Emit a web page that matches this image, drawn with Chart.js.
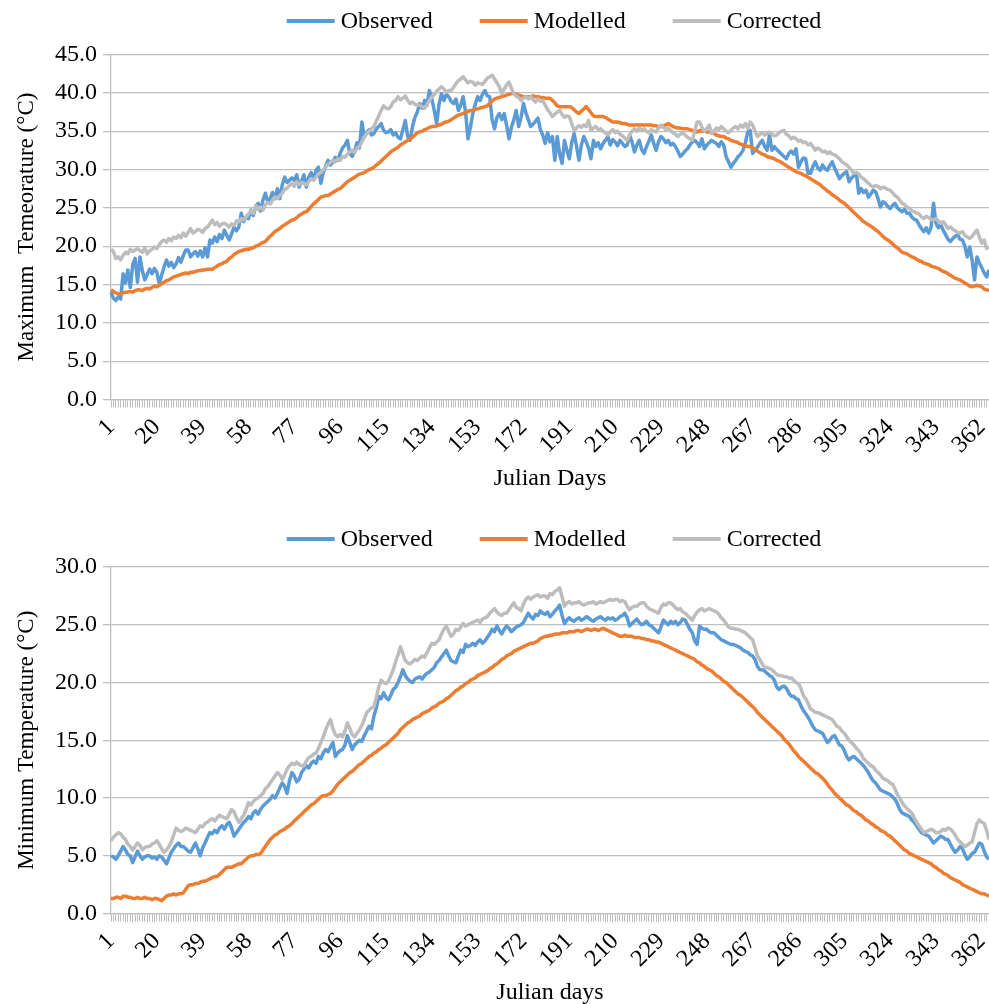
<!DOCTYPE html>
<html><head><meta charset="utf-8">
<script src="https://cdn.jsdelivr.net/npm/chart.js@4.4.1/dist/chart.umd.min.js"></script>
<style>
html,body{margin:0;padding:0;background:#fff;overflow:hidden;width:989px;height:1004px;}
#c1{position:absolute;left:0;top:0;width:989px;height:500px;}
#c2{position:absolute;left:0;top:500px;width:989px;height:510px;}
</style></head><body>
<canvas id="c1" width="989" height="500"></canvas>
<canvas id="c2" width="989" height="510"></canvas>
<script>
// ---- categories (Julian days) ----
const days = Array.from({length: 365}, (_, i) => i + 1);
const tickLabels = ['1','20','39','58','77','96','115','134','153','172','191','210','229','248','267','286','305','324','343','362'];
const seriesNames = ['Observed', 'Modelled', 'Corrected'];

// ---- Maximum temperature (top panel) ----
const tmaxObs = [
14.0,13.2,12.9,13.4,13.1,16.4,15.2,16.9,14.6,17.6,
18.4,15.3,18.6,16.8,15.6,16.3,17.0,16.4,17.1,16.6,
15.1,16.2,17.3,18.2,17.4,17.9,17.2,17.7,18.5,17.9,
18.8,19.5,19.5,18.6,19.0,19.3,18.7,19.4,18.6,19.8,
18.6,20.8,20.4,21.2,20.6,21.5,21.0,22.1,21.4,20.8,
21.6,22.5,22.0,22.5,24.3,23.2,23.8,23.6,24.7,24.0,
25.2,25.6,24.6,26.0,26.9,25.8,26.2,27.0,26.2,27.5,
26.2,28.0,29.0,28.3,28.6,28.9,28.6,29.3,27.7,28.5,
29.3,27.7,29.0,29.6,28.8,29.9,30.3,28.2,29.6,30.4,
31.2,30.6,31.0,31.6,31.2,32.1,32.8,33.2,33.8,32.1,
31.7,32.4,33.5,32.8,36.2,34.3,34.8,35.2,34.5,34.7,
35.3,35.6,36.0,35.1,34.8,34.9,35.2,34.5,34.8,34.2,
34.0,35.2,36.4,34.3,33.8,35.6,36.8,37.5,38.6,38.0,
39.0,38.4,40.3,39.2,37.7,36.0,38.5,39.9,39.0,39.8,
39.5,38.9,38.6,39.2,37.7,38.4,39.5,37.5,34.0,35.5,
37.3,38.5,39.5,39.0,39.8,40.3,39.6,39.5,36.5,35.3,
36.8,37.3,36.5,37.3,35.8,34.0,35.5,36.5,37.7,35.6,
36.8,38.6,37.4,36.5,35.6,35.9,36.3,36.7,35.2,34.5,
33.4,34.8,33.6,34.3,31.2,34.3,32.0,30.8,33.8,32.5,
31.4,33.5,34.7,33.0,31.2,33.2,34.3,33.6,32.8,31.4,
33.8,33.0,33.5,32.7,33.4,33.8,34.3,33.2,33.9,33.6,
33.1,33.8,33.4,33.0,33.2,34.5,33.6,32.3,33.2,33.8,
32.6,32.1,33.0,33.7,34.5,33.4,32.5,33.6,34.3,34.0,
33.5,33.8,33.2,33.4,33.0,32.4,31.7,32.0,32.4,32.7,
33.2,33.6,33.8,33.5,33.0,34.0,32.7,33.2,33.5,33.8,
33.6,33.4,33.0,33.6,33.2,31.7,31.0,30.3,30.8,31.2,
31.7,32.0,32.5,33.5,34.9,35.1,32.1,32.5,32.9,33.4,
33.8,33.0,32.5,34.5,32.5,33.0,32.6,32.3,32.0,31.7,
31.4,32.1,32.4,32.0,32.7,30.3,31.0,31.5,31.4,29.5,
29.5,30.4,31.0,30.2,29.9,30.6,30.1,29.9,30.5,31.0,
30.2,29.5,28.8,29.2,29.5,29.7,28.4,28.9,29.2,29.5,
26.9,27.5,27.0,27.3,26.4,26.8,27.3,27.1,26.2,25.1,
25.8,25.6,25.2,24.9,25.3,25.6,25.0,24.7,24.5,24.8,
24.3,24.3,23.8,23.5,23.4,22.8,22.3,21.9,22.4,21.7,
22.5,25.6,23.0,22.4,22.8,22.1,21.5,20.9,20.6,21.0,
21.3,21.5,20.9,20.8,20.0,18.6,19.9,18.2,15.6,18.6,
17.8,17.2,16.5,16.0,16.9];

const tmaxMod = [
14.3,14.1,13.9,13.8,13.8,13.9,14.0,14.0,14.1,14.0,
14.2,14.3,14.3,14.2,14.4,14.5,14.4,14.6,14.8,14.7,
14.9,15.1,15.3,15.5,15.6,15.8,16.0,16.1,16.2,16.3,
16.4,16.5,16.4,16.6,16.6,16.7,16.8,16.8,16.9,16.9,
17.0,17.0,17.0,17.2,17.4,17.6,17.7,17.9,18.0,18.4,
18.6,18.9,19.1,19.3,19.4,19.5,19.6,19.6,19.7,19.8,
20.0,20.1,20.3,20.5,20.6,21.0,21.3,21.6,21.9,22.1,
22.3,22.6,22.8,23.0,23.2,23.4,23.5,23.7,24.0,24.2,
24.4,24.5,24.8,25.2,25.5,25.8,26.1,26.4,26.5,26.6,
26.6,26.8,27.0,27.2,27.4,27.5,27.8,28.1,28.4,28.6,
28.8,29.0,29.2,29.4,29.5,29.6,29.8,30.0,30.1,30.3,
30.6,30.8,31.1,31.4,31.7,32.0,32.3,32.5,32.7,32.9,
33.2,33.4,33.6,33.8,34.0,34.2,34.5,34.8,34.9,35.0,
35.2,35.3,35.5,35.6,35.6,35.7,35.8,35.9,36.1,36.2,
36.3,36.5,36.7,36.9,37.1,37.2,37.3,37.5,37.6,37.7,
37.7,37.8,37.9,38.0,38.1,38.2,38.3,38.6,38.9,39.2,
39.3,39.4,39.5,39.6,39.7,39.8,39.9,39.9,39.8,39.7,
39.6,39.5,39.5,39.5,39.5,39.6,39.5,39.5,39.4,39.4,
39.3,39.3,39.3,39.0,38.7,38.3,38.2,38.2,38.2,38.2,
38.2,38.1,37.8,37.5,37.3,37.6,37.9,38.2,37.8,37.4,
37.0,36.9,36.9,36.9,36.9,36.8,36.6,36.4,36.2,36.2,
36.2,36.1,36.0,36.0,35.9,35.8,35.8,35.8,35.8,35.8,
35.8,35.8,35.8,35.8,35.8,35.7,35.7,35.6,35.6,35.7,
35.8,36.0,35.8,35.6,35.5,35.4,35.4,35.3,35.3,35.3,
35.2,35.1,35.0,34.9,35.1,35.0,35.0,34.9,34.9,34.8,
34.7,34.5,34.4,34.3,34.3,34.1,34.0,33.8,33.7,33.6,
33.5,33.3,33.2,33.1,33.0,33.0,32.8,32.6,32.4,32.2,
32.0,31.9,31.7,31.6,31.5,31.4,31.2,31.1,30.9,30.7,
30.5,30.3,30.1,29.9,29.7,29.6,29.5,29.3,29.2,29.0,
28.8,28.6,28.4,28.2,28.0,27.7,27.5,27.2,27.0,26.7,
26.5,26.3,26.0,25.8,25.6,25.3,25.0,24.7,24.4,24.1,
23.8,23.5,23.2,23.0,22.8,22.6,22.4,22.1,21.9,21.6,
21.3,21.0,20.8,20.6,20.3,20.0,19.8,19.5,19.2,19.1,
19.0,18.8,18.6,18.5,18.3,18.1,18.0,17.8,17.7,17.6,
17.4,17.3,17.2,17.1,16.9,16.7,16.6,16.4,16.2,16.0,
15.8,15.7,15.6,15.4,15.2,15.0,14.8,14.7,14.8,14.9,
14.8,14.7,14.4,14.3,14.2];

const tmaxCor = [
19.6,19.3,18.4,18.6,18.2,18.8,19.2,19.0,19.6,19.3,
19.5,19.7,19.4,19.2,19.8,19.0,19.4,19.6,19.9,19.7,
20.2,20.6,20.8,20.5,21.0,20.7,21.2,21.0,21.4,21.1,
21.7,21.3,21.8,22.3,21.7,21.9,22.2,22.1,21.8,22.3,
22.5,22.9,23.4,22.8,23.1,22.6,22.9,23.0,22.8,22.5,
22.9,22.7,23.3,23.2,23.6,23.4,23.8,24.2,24.6,24.3,
25.3,24.8,25.1,24.7,25.4,25.7,25.5,26.0,26.4,26.2,
26.6,26.9,27.4,27.6,27.9,28.2,27.8,28.4,28.0,28.3,
28.2,28.0,28.4,28.8,28.6,29.0,29.4,29.6,29.9,30.3,
30.7,30.9,31.2,31.0,31.4,31.2,31.7,31.6,32.0,32.3,
32.5,32.2,32.8,33.0,33.6,34.2,34.7,35.0,35.3,35.6,
36.3,37.0,37.7,38.3,38.0,37.9,38.2,38.8,39.0,39.5,
39.1,39.3,39.6,39.0,38.6,38.8,38.5,38.4,38.4,38.2,
38.0,38.5,39.0,39.5,39.8,40.2,40.5,40.8,40.5,40.1,
40.3,40.3,40.7,41.2,41.6,41.8,42.1,41.7,41.3,41.5,
41.4,41.0,41.3,41.2,41.1,41.5,41.9,42.1,42.3,41.8,
41.3,40.8,39.9,40.5,41.0,41.4,40.6,39.9,39.6,39.4,
39.0,39.3,39.5,39.2,39.5,39.1,38.8,39.2,38.9,39.0,
38.4,37.8,37.4,36.9,37.2,37.5,37.7,37.2,36.8,37.0,
36.9,36.0,35.1,35.4,35.7,35.5,35.8,35.6,36.4,35.1,
35.4,35.6,35.2,35.3,35.0,34.8,34.5,34.9,35.2,34.8,
35.0,34.6,34.4,34.1,33.8,34.5,35.0,35.3,35.0,35.4,
35.1,35.3,35.0,34.8,35.2,35.0,34.9,35.4,35.8,35.5,
35.2,35.4,35.1,34.8,34.6,34.3,34.6,34.8,34.5,34.2,
34.0,33.8,35.0,36.2,36.2,35.5,35.0,35.3,35.8,34.7,
35.0,35.4,35.2,35.6,35.3,35.0,34.8,35.1,35.4,35.6,
35.3,35.8,35.5,36.0,35.4,36.2,35.8,35.0,34.3,34.6,
34.8,34.5,34.7,34.9,34.6,34.4,34.5,34.8,35.0,35.1,
34.6,34.4,34.0,34.2,34.0,33.7,33.8,33.5,33.6,33.2,
33.4,33.0,32.5,32.8,32.6,32.3,32.4,32.1,32.3,32.0,
31.9,31.7,31.4,31.0,30.8,30.6,30.3,29.9,29.5,29.6,
29.4,29.0,28.8,28.5,28.2,27.9,27.7,27.9,27.8,27.5,
27.7,27.6,27.4,27.3,27.0,26.6,26.4,26.0,25.6,25.4,
25.1,24.9,24.6,24.5,24.3,24.2,23.8,23.6,23.9,23.7,
23.5,23.4,23.6,23.3,23.0,23.2,22.8,22.3,22.5,22.2,
22.0,21.8,21.7,21.9,21.4,21.2,21.0,21.3,21.7,22.1,
21.2,20.4,20.8,19.7,19.9];

// ---- Minimum temperature (bottom panel) ----
const tminObs = [
5.0,4.9,4.7,5.0,5.4,5.8,5.5,5.1,5.0,4.4,
4.9,5.4,5.0,4.7,4.9,5.0,5.0,4.8,4.9,4.7,
5.0,4.9,4.6,4.3,4.8,5.3,5.6,5.9,6.1,5.8,
5.8,5.6,5.4,5.3,5.7,6.1,5.6,5.0,5.7,6.1,
6.6,7.0,6.9,7.2,7.0,7.4,7.6,7.3,7.7,7.9,
7.4,6.7,7.0,7.3,7.6,7.9,8.1,8.4,8.2,8.7,
8.9,8.6,9.0,9.3,9.5,9.7,9.9,10.2,10.0,10.4,
10.9,11.3,11.0,10.4,11.5,12.2,11.9,11.4,11.6,12.2,
12.5,12.8,12.6,13.0,13.2,13.0,13.6,13.4,13.9,14.2,
14.0,14.4,14.8,13.6,13.9,14.1,14.2,14.6,15.4,14.8,
14.2,14.6,14.8,15.0,14.9,15.4,15.8,16.2,16.0,17.1,
17.8,18.8,18.6,19.1,18.7,18.5,18.9,19.4,19.6,20.0,
20.5,21.1,20.6,20.3,20.1,20.0,20.3,20.4,20.5,20.3,
20.6,20.8,20.9,21.1,21.3,21.7,21.9,22.2,22.5,22.8,
22.3,21.9,21.8,21.7,22.3,22.8,22.6,23.3,23.1,23.2,
23.4,23.2,23.5,23.7,23.4,23.6,23.9,24.2,24.6,24.4,
24.9,24.5,24.2,24.6,24.9,24.7,24.4,24.6,24.8,24.9,
25.0,25.2,25.6,26.0,25.7,25.5,25.9,25.8,26.2,26.0,
25.9,26.1,25.7,25.9,26.2,26.4,26.7,25.8,25.1,25.4,
25.6,25.4,25.3,25.5,25.6,25.4,25.5,25.7,25.6,25.4,
25.3,25.5,25.6,25.7,25.5,25.4,25.6,25.5,25.6,25.4,
25.5,25.7,25.8,26.0,25.6,24.9,25.1,25.3,25.5,25.2,
25.0,25.1,25.3,25.0,24.9,24.7,24.5,24.3,24.8,25.4,
25.2,25.0,25.3,25.1,25.3,25.0,25.2,25.5,25.4,25.0,
24.6,24.3,23.6,23.3,24.9,24.7,24.6,24.6,24.4,24.3,
24.3,24.1,23.9,23.7,23.6,23.5,23.4,23.3,23.3,23.2,
23.1,23.0,22.8,22.7,22.6,22.4,22.3,22.0,21.4,21.1,
21.1,21.0,20.8,20.6,20.5,20.2,19.6,19.4,19.6,19.7,
19.5,19.1,18.8,18.8,18.6,18.5,18.0,17.6,17.3,17.0,
16.6,16.2,15.9,15.8,15.7,15.6,15.2,14.8,15.0,15.3,
15.4,15.0,14.6,14.5,14.1,13.6,13.3,13.5,13.6,13.4,
13.2,13.0,12.8,12.5,12.2,11.8,11.5,11.3,11.0,10.7,
10.6,10.5,10.4,10.3,10.1,9.9,9.5,9.0,8.7,8.6,
8.5,8.4,8.1,7.9,7.6,7.3,7.0,6.9,6.8,6.7,
6.4,6.1,6.3,6.5,6.7,6.6,6.4,6.4,6.0,5.6,
5.3,5.5,5.8,5.6,5.1,4.7,4.9,5.2,5.3,5.7,
6.1,6.0,5.4,4.9,4.7];

const tminMod = [
1.3,1.3,1.4,1.4,1.3,1.5,1.5,1.4,1.4,1.3,
1.3,1.4,1.3,1.3,1.4,1.3,1.3,1.2,1.3,1.3,
1.2,1.1,1.3,1.5,1.6,1.6,1.7,1.6,1.7,1.7,
1.8,2.1,2.4,2.5,2.5,2.6,2.6,2.7,2.8,2.8,
2.9,3.0,3.1,3.2,3.2,3.4,3.6,3.8,4.0,4.0,
4.0,4.1,4.2,4.3,4.3,4.5,4.7,4.9,5.0,5.0,
5.1,5.1,5.2,5.5,5.8,6.1,6.4,6.6,6.8,6.9,
7.1,7.2,7.3,7.5,7.6,7.8,8.0,8.2,8.4,8.6,
8.8,9.0,9.2,9.4,9.5,9.7,9.9,10.1,10.2,10.2,
10.3,10.4,10.6,10.9,11.2,11.4,11.6,11.8,12.0,12.2,
12.3,12.5,12.7,12.9,13.0,13.2,13.4,13.6,13.7,13.9,
14.0,14.2,14.3,14.5,14.6,14.8,15.0,15.2,15.4,15.6,
15.9,16.1,16.3,16.5,16.6,16.8,16.9,17.0,17.1,17.3,
17.4,17.5,17.6,17.8,17.9,18.0,18.2,18.3,18.4,18.6,
18.7,18.9,19.1,19.3,19.4,19.6,19.7,19.9,20.0,20.2,
20.3,20.4,20.6,20.7,20.8,20.9,21.0,21.2,21.3,21.5,
21.6,21.8,22.0,22.1,22.3,22.4,22.5,22.7,22.8,22.9,
23.0,23.1,23.2,23.3,23.4,23.4,23.5,23.6,23.8,23.9,
24.0,24.0,24.1,24.1,24.2,24.2,24.2,24.3,24.3,24.3,
24.4,24.4,24.4,24.5,24.5,24.4,24.5,24.6,24.6,24.5,
24.6,24.6,24.5,24.6,24.7,24.6,24.5,24.4,24.3,24.2,
24.1,24.0,24.0,24.1,24.0,24.0,24.0,23.9,23.9,23.9,
23.8,23.8,23.7,23.7,23.6,23.6,23.5,23.5,23.4,23.3,
23.2,23.1,23.0,22.9,22.8,22.7,22.6,22.5,22.4,22.3,
22.2,22.1,22.0,21.8,21.7,21.5,21.4,21.2,21.1,21.0,
20.8,20.6,20.5,20.3,20.1,20.0,19.8,19.6,19.4,19.2,
19.0,18.9,18.7,18.5,18.3,18.1,17.9,17.7,17.4,17.2,
17.0,16.8,16.6,16.4,16.2,16.0,15.8,15.6,15.4,15.1,
14.9,14.7,14.4,14.1,13.9,13.6,13.4,13.2,13.0,12.8,
12.6,12.4,12.2,12.1,11.9,11.7,11.5,11.2,10.9,10.7,
10.4,10.2,10.0,9.8,9.6,9.4,9.3,9.1,8.9,8.8,
8.6,8.5,8.3,8.1,8.0,7.8,7.7,7.5,7.4,7.2,
7.1,7.0,6.8,6.7,6.5,6.3,6.1,5.9,5.7,5.5,
5.4,5.2,5.1,5.0,4.9,4.8,4.7,4.6,4.5,4.4,
4.3,4.1,4.0,3.8,3.7,3.5,3.4,3.3,3.1,3.0,
2.9,2.8,2.7,2.5,2.4,2.3,2.2,2.1,2.0,1.9,
1.8,1.7,1.7,1.6,1.5];

const tminCor = [
6.3,6.6,6.8,7.0,6.9,6.6,6.4,6.0,5.8,5.5,
5.8,6.1,5.9,5.5,5.7,5.8,5.8,6.0,6.1,6.3,
6.0,5.6,5.3,5.5,5.8,6.2,6.8,7.4,7.2,7.1,
7.2,7.4,7.3,7.2,7.1,7.0,7.3,7.6,7.5,7.8,
7.9,8.1,8.2,8.0,8.3,8.5,8.4,8.3,8.2,8.6,
9.0,8.8,8.3,7.9,8.2,8.5,9.0,9.6,9.4,9.7,
9.9,10.0,10.2,10.4,10.8,11.0,11.3,11.6,11.9,12.2,
12.0,11.6,12.0,12.5,12.8,13.0,12.9,13.1,12.9,12.8,
12.8,13.2,13.5,13.6,13.8,13.9,14.3,14.8,15.3,15.9,
16.4,16.8,16.0,15.5,15.3,15.5,15.3,15.8,16.5,16.0,
15.5,15.3,15.6,15.9,16.3,16.8,17.4,17.6,17.8,17.9,
18.7,19.6,20.2,20.0,19.9,20.1,20.6,21.1,21.8,22.4,
23.1,22.5,21.9,21.7,21.6,21.8,22.0,21.9,22.1,22.3,
22.2,22.6,23.0,23.4,23.3,23.5,23.7,24.2,24.6,24.9,
24.4,24.0,24.2,24.6,24.5,24.8,25.1,24.9,25.0,25.1,
25.2,25.3,25.4,25.2,25.5,25.6,25.7,26.0,26.2,26.4,
26.1,25.9,25.8,26.0,26.0,26.3,26.6,26.9,26.5,26.4,
26.2,26.8,27.2,27.4,27.2,27.4,27.5,27.6,27.4,27.5,
27.5,27.3,27.7,27.6,27.9,28.0,28.2,27.4,26.6,26.9,
27.0,26.8,26.9,26.9,27.0,26.8,26.7,26.8,26.9,26.9,
27.0,26.8,26.9,27.0,26.9,27.0,27.1,27.2,27.1,27.2,
27.2,27.0,27.1,27.0,26.6,26.3,26.5,26.6,26.6,26.8,
26.9,26.9,26.6,26.4,26.3,26.2,26.1,26.0,26.5,26.8,
26.7,26.9,26.9,26.7,26.5,26.3,26.4,26.1,26.0,25.8,
25.6,25.4,25.8,26.1,26.3,26.4,26.2,26.3,26.4,26.3,
26.2,26.1,25.9,25.6,25.4,25.1,24.8,24.7,24.7,24.6,
24.6,24.5,24.4,24.3,24.1,23.9,23.7,23.0,22.3,22.0,
21.6,21.3,21.3,21.2,21.1,20.9,20.7,20.6,20.6,20.5,
20.5,20.4,20.4,20.2,20.0,19.9,19.5,18.9,18.6,18.2,
17.7,17.6,17.4,17.4,17.3,17.2,17.1,17.0,16.9,16.8,
16.5,16.2,16.1,15.8,15.6,15.3,15.0,14.8,14.6,14.3,
14.1,13.8,13.4,13.2,13.0,12.8,12.7,12.4,12.2,12.0,
11.7,11.6,11.5,11.3,11.2,10.8,10.3,10.0,9.6,9.3,
9.1,8.9,8.7,8.3,7.9,7.6,7.3,7.0,7.1,7.2,
7.3,7.2,7.0,7.0,7.1,7.3,7.2,7.4,7.3,7.1,
6.8,6.4,6.2,6.0,5.8,5.9,6.1,6.2,7.0,7.8,
8.1,7.9,7.8,7.2,6.4];

// ---- styling ----
const COLORS = ['#5B9BD5', '#ED7D31', '#BDBDBD'];
const GRID = '#BFBFBF';
const FONT = '"Liberation Serif", "Times New Roman", serif';

const lineLegend = {
  id: 'lineLegend',
  afterDraw(chart, args, opts) {
    const ctx = chart.ctx;
    ctx.save();
    ctx.font = '24px ' + FONT;
    ctx.textBaseline = 'middle';
    ctx.textAlign = 'left';
    const items = chart.data.datasets.map(d => ({t: d.label, c: d.borderColor, w: ctx.measureText(d.label).width}));
    const L = 48, G = 6, S = 47;
    const total = items.reduce((a, it) => a + L + G + it.w, 0) + S * (items.length - 1);
    let x = opts.cx - total / 2;
    for (const it of items) {
      ctx.strokeStyle = it.c; ctx.lineWidth = 4; ctx.lineCap = 'butt';
      ctx.beginPath(); ctx.moveTo(x, opts.y); ctx.lineTo(x + L, opts.y); ctx.stroke();
      ctx.fillStyle = '#000';
      ctx.fillText(it.t, x + L + G, opts.y + 1);
      x += L + G + it.w + S;
    }
    ctx.restore();
  }
};

function makeChart(id, obs, mod, cor, yMax, yTitle, xTitle, o) {
  const base = {backgroundColor: 'transparent', borderWidth: 3.5, pointRadius: 0, pointHoverRadius: 0, tension: 0, fill: false, borderJoinStyle: 'round'};
  return new Chart(document.getElementById(id), {
    type: 'line',
    data: {
      labels: days,
      datasets: [
        Object.assign({}, base, {label: seriesNames[0], data: obs, borderColor: COLORS[0], order: 2}),
        Object.assign({}, base, {label: seriesNames[1], data: mod, borderColor: COLORS[1], order: 1}),
        Object.assign({}, base, {label: seriesNames[2], data: cor, borderColor: COLORS[2], order: 0})
      ]
    },
    options: {
      responsive: false, animation: false, devicePixelRatio: 1,
      layout: {padding: {top: o.top, left: 0, right: 0, bottom: 0}},
      plugins: {legend: {display: false}, tooltip: {enabled: false}, lineLegend: {y: o.legendY, cx: 554}},
      scales: {
        x: {
          type: 'category',
          grid: {display: true, drawOnChartArea: false, drawTicks: true, tickLength: 8, color: GRID, lineWidth: 1},
          border: {display: true, color: GRID, width: 1.3},
          ticks: {
            autoSkip: false, maxRotation: 45, minRotation: 45, padding: 6, color: '#000',
            font: {family: FONT, size: 24},
            callback: function(v, i) { const l = String(days[i]); return tickLabels.includes(l) ? l : ''; }
          },
          title: {display: true, text: xTitle, color: '#000', font: {family: FONT, size: 24}, padding: {top: 0, bottom: o.xtpb}},
          afterFit: s => { s.height = o.xh; s.paddingRight = 0; s.paddingLeft = 0; }
        },
        y: {
          min: 0, max: yMax,
          ticks: {stepSize: 5, padding: 6, color: '#000', font: {family: FONT, size: 24}, callback: v => Number(v).toFixed(1)},
          grid: {color: GRID, lineWidth: 1.3, tickLength: 8, drawTicks: true},
          border: {display: true, color: GRID, width: 1.3},
          title: {display: true, text: yTitle, color: '#000', font: {family: FONT, size: 23}, padding: {top: 13, bottom: 0}},
          afterFit: s => { s.width = 111; s.paddingTop = 0; s.paddingBottom = 0; }
        }
      }
    },
    plugins: [lineLegend]
  });
}

makeChart('c1', tmaxObs, tmaxMod, tmaxCor, 45, 'Maximum  Temeorature (°C)', 'Julian Days',
  {top: 54.5, xh: 100.5, xtpb: 6.6, legendY: 21});
makeChart('c2', tminObs, tminMod, tminCor, 30, 'Minimum Temperature (°C)', 'Julian days',
  {top: 67, xh: 96.5, xtpb: 2.6, legendY: 39});
</script>
</body></html>
